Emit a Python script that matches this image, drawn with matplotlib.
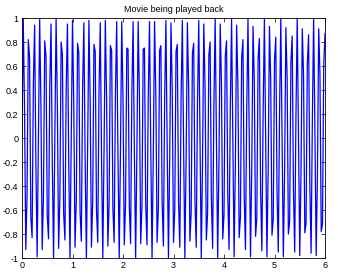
import numpy as np
import matplotlib
matplotlib.use("Agg")
import matplotlib.pyplot as plt

# Frame values (one value per frame, 40 frames per unit)
frame_values = [
    0.00, 0.99, 0.24, -0.93, -0.47, 0.82, 0.67, -0.66, -0.83, 0.45,
    0.94, -0.22, -0.99, -0.02, 0.99, 0.26, -0.93, -0.48, 0.81, 0.68,
    -0.64, -0.84, 0.44, 0.95, -0.21, -1.00, -0.03, 0.99, 0.28, -0.92,
    -0.50, 0.80, 0.69, -0.63, -0.85, 0.42, 0.95, -0.19, -1.00, -0.05,
    0.98, 0.29, -0.91, -0.52, 0.79, 0.71, -0.62, -0.86, 0.41, 0.96,
    -0.17, -1.00, -0.07, 0.98, 0.31, -0.91, -0.53, 0.78, 0.72, -0.60,
    -0.87, 0.39, 0.96, -0.16, -1.00, -0.09, 0.98, 0.33, -0.90, -0.54,
    0.77, 0.73, -0.59, -0.87, 0.37, 0.97, -0.14, -1.00, -0.10, 0.97,
    0.34, -0.89, -0.56, 0.75, 0.74, -0.57, -0.88, 0.36, 0.97, -0.12,
    -1.00, -0.12, 0.97, 0.36, -0.88, -0.57, 0.74, 0.75, -0.56, -0.89,
    0.34, 0.97, -0.10, -1.00, -0.14, 0.97, 0.37, -0.87, -0.59, 0.73,
    0.77, -0.54, -0.90, 0.33, 0.98, -0.09, -1.00, -0.16, 0.96, 0.39,
    -0.87, -0.60, 0.72, 0.78, -0.53, -0.91, 0.31, 0.98, -0.07, -1.00,
    -0.17, 0.96, 0.41, -0.86, -0.62, 0.71, 0.79, -0.52, -0.91, 0.29,
    0.98, -0.05, -1.00, -0.19, 0.95, 0.42, -0.85, -0.63, 0.69, 0.80,
    -0.50, -0.92, 0.28, 0.99, -0.03, -1.00, -0.21, 0.95, 0.44, -0.84,
    -0.64, 0.68, 0.81, -0.48, -0.93, 0.26, 0.99, -0.02, -0.99, -0.22,
    0.94, 0.45, -0.83, -0.66, 0.67, 0.82, -0.47, -0.93, 0.24, 0.99,
    0.00, -0.99, -0.24, 0.93, 0.47, -0.82, -0.67, 0.66, 0.83, -0.45,
    -0.94, 0.22, 0.99, 0.02, -0.99, -0.26, 0.93, 0.48, -0.81, -0.68,
    0.64, 0.84, -0.44, -0.95, 0.21, 1.00, 0.03, -0.99, -0.28, 0.92,
    0.50, -0.80, -0.69, 0.63, 0.85, -0.42, -0.95, 0.19, 1.00, 0.05,
    -0.98, -0.29, 0.91, 0.52, -0.79, -0.71, 0.62, 0.86, -0.41, -0.96,
    0.17, 1.00, 0.07, -0.98, -0.31, 0.91, 0.53, -0.78, -0.72, 0.60,
    0.87,
]
frame_step = 1 / 40

x_ticks = [0, 1, 2, 3, 4, 5, 6]
x_tick_labels = ["0", "1", "2", "3", "4", "5", "6"]
y_ticks = [-1, -0.8, -0.6, -0.4, -0.2, 0, 0.2, 0.4, 0.6, 0.8, 1]
y_tick_labels = ["-1", "-0.8", "-0.6", "-0.4", "-0.2", "0",
                 "0.2", "0.4", "0.6", "0.8", "1"]
title_text = "Movie being played back"


def main():
    """
    Draws the played back frames as one blue trace on a boxed, MATLAB-like axes
    and saves it to out.png
    """
    plt.rcParams["font.family"] = ["Liberation Sans", "DejaVu Sans"]

    fig = plt.figure(figsize=(3.38, 2.78), dpi=100)
    ax = fig.add_axes([22 / 338, 20 / 278, 303 / 338, 240 / 278])

    t = np.arange(len(frame_values)) * frame_step
    ax.plot(t, frame_values, color="#0000ff", linewidth=0.9)

    ax.set_xlim(0, 6)
    ax.set_ylim(-1, 1)
    ax.set_xticks(x_ticks)
    ax.set_xticklabels(x_tick_labels)
    ax.set_yticks(y_ticks)
    ax.set_yticklabels(y_tick_labels)
    ax.tick_params(direction="in", length=3, width=0.5, top=True, right=True,
                   labelsize=6.5, pad=2.5, colors="black")
    for spine in ax.spines.values():
        spine.set_linewidth(0.6)

    ax.set_title(title_text, fontsize=6.5, pad=4)
    fig.savefig("out.png", dpi=100)


main()
